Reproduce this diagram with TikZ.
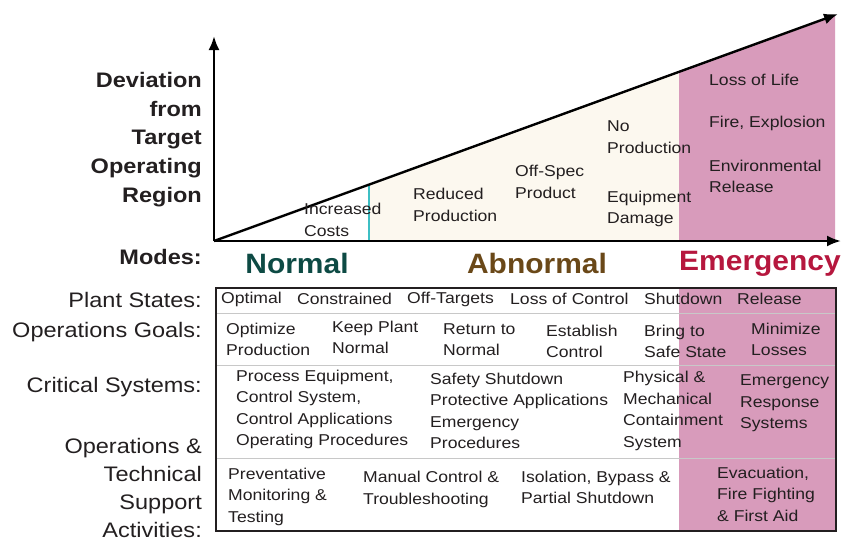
\documentclass[tikz,border=0pt]{standalone}
\usepackage{fontspec}
\setmainfont{Liberation Sans}[FakeStretch=1.12]
\newfontfamily\modesfont{Liberation Sans}[FakeStretch=1.07]
\usetikzlibrary{arrows.meta}

\definecolor{pinkzone}{HTML}{D89BBB}
\definecolor{creamzone}{HTML}{FCF8EF}
\definecolor{cyanline}{HTML}{3DBFC4}
\definecolor{normalgreen}{HTML}{0D4A44}
\definecolor{abnormalbrown}{HTML}{6A4818}
\definecolor{emergencyred}{HTML}{B6173E}
\definecolor{textgrey}{HTML}{231F20}
\definecolor{rowgrey}{HTML}{C8C8C8}

\tikzset{
  cell/.style={anchor=west, inner sep=0pt, align=left, text=textgrey,
    font=\fontsize{15.7}{21.5}\selectfont},
  rowlabel/.style={anchor=east, inner sep=0pt, align=right, text=textgrey,
    font=\fontsize{21}{28.6}\selectfont},
  modelabel/.style={inner sep=0pt, font=\modesfont\bfseries\fontsize{28}{30}\selectfont},
  axis/.style={line width=2.4pt, -{Latex[length=14pt,width=11pt]}},
  rowline/.style={draw=rowgrey, line width=1pt},
}

\begin{document}
\begin{tikzpicture}[x=1pt, y=-1pt]
    \useasboundingbox (0,0) rectangle (843,542);
    % zones under the deviation line
    \fill[creamzone] (369,185) -- (679,72) -- (679,241) -- (369,241) -- cycle;
    \fill[pinkzone] (679,72) -- (835,15) -- (835,241) -- (679,241) -- cycle;
    \fill[pinkzone] (679,288) rectangle (836,531);
    \draw[cyanline, line width=1.2pt] (369,185) -- (369,241);
    % axes
    \coordinate (origin) at (214,241);
    \coordinate (ytip) at (214,36);
    \coordinate (xtip) at (841,241);
    \coordinate (dtip) at (838,14);
    \draw[axis] (origin) -- (ytip);
    \draw[axis] (origin) -- (xtip);
    \draw[axis] (origin) -- (dtip);
    % consequences
    \node[cell] (costs) at (304,220) {Increased\\Costs};
    \node[cell] (reduced) at (413,205) {Reduced\\Production};
    \node[cell] (offspec) at (515,182) {Off-Spec\\Product};
    \node[cell] (noprod) at (607,137) {No\\Production};
    \node[cell] (damage) at (607,209) {Equipment\\Damage};
    \node[cell] (life) at (709,80) {Loss of Life};
    \node[cell] (fire) at (709,123) {Fire, Explosion};
    \node[cell] (release) at (709,176.5) {Environmental\\Release};
    % left labels
    \node[rowlabel, font=\bfseries\fontsize{21}{28.7}\selectfont] (deviation) at (202,139.5)
        {Deviation\\from\\Target\\Operating\\Region};
    \node[rowlabel, font=\bfseries\fontsize{21}{28.7}\selectfont] (modes) at (202,257) {Modes:};
    \node[rowlabel] (states) at (202,300) {Plant States:};
    \node[rowlabel] (goals) at (202,332) {Operations Goals:};
    \node[rowlabel] (systems) at (202,387) {Critical Systems:};
    \node[rowlabel, font=\fontsize{21}{28}\selectfont] (support) at (202,487.5) {Operations \&\\Technical\\Support\\Activities:};
    % modes
    \node[modelabel, text=normalgreen] (normal) at (297,263) {Normal};
    \node[modelabel, text=abnormalbrown] (abnormal) at (537,263) {Abnormal};
    \node[modelabel, text=emergencyred] (emergency) at (760,264) {Emergency};
    % table
    \draw[rowline] (216,313) -- (836,313);
    \draw[rowline] (216,365) -- (836,365);
    \draw[rowline] (216,458) -- (836,458);
    \draw[textgrey, line width=1.3pt] (216,288) rectangle (836,531);
    % plant states
    \node[cell] (optimal) at (221,299) {Optimal};
    \node[cell] (constrained) at (297,299) {Constrained};
    \node[cell] (offtargets) at (407,299) {Off-Targets};
    \node[cell] (losscontrol) at (510,299) {Loss of Control};
    \node[cell] (shutdown) at (644,299) {Shutdown};
    \node[cell] (releasestate) at (737,299) {Release};
    % operations goals
    \node[cell] (optimize) at (226,339.5) {Optimize\\Production};
    \node[cell] (keep) at (332,337.5) {Keep Plant\\Normal};
    \node[cell] (return) at (443,339.5) {Return to\\Normal};
    \node[cell] (establish) at (546,341.5) {Establish\\Control};
    \node[cell] (bring) at (644,341.5) {Bring to\\Safe State};
    \node[cell] (minimize) at (751,339.5) {Minimize\\Losses};
    % critical systems
    \node[cell] (process) at (236,409.5) {Process Equipment,\\Control System,\\Control Applications\\Operating Procedures};
    \node[cell] (safety) at (430,411) {Safety Shutdown\\Protective Applications\\Emergency\\Procedures};
    \node[cell] (physical) at (623,411) {Physical \&\\Mechanical\\Containment\\System};
    \node[cell] (response) at (740,403.5) {Emergency\\Response\\Systems};
    % support activities
    \node[cell] (preventative) at (228,496.5) {Preventative\\Monitoring \&\\Testing};
    \node[cell] (manual) at (363,489.5) {Manual Control \&\\Troubleshooting};
    \node[cell] (isolation) at (521,487.5) {Isolation, Bypass \&\\Partial Shutdown};
    \node[cell] (evacuation) at (717,494) {Evacuation,\\Fire Fighting\\\& First Aid};
\end{tikzpicture}
\end{document}
